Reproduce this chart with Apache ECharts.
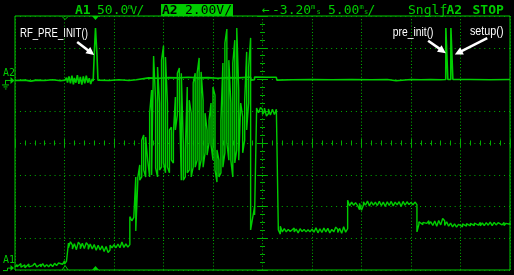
<!DOCTYPE html>
<html><head><meta charset="utf-8">
<script src="https://cdn.jsdelivr.net/npm/echarts/dist/echarts.min.js"></script>
<style>html,body{margin:0;padding:0;background:#000;}#c{width:514px;height:275px;}</style>
</head><body><div id="c"></div>
<script>
// ---- data (time in ms from screen left, 5 ms/div; level in screen divisions from bottom) ----
const a1Step = 0.2; // ms between columns
// A1 (current probe) : upper / lower extent of the trace per column
const a1Hi = [
 0.14,0.17,0.13,0.2,0.14,0.16,0.13,0.19,0.15,0.14, 0.21,0.15,0.14,0.18,0.2,0.15,0.17,0.22,0.18,0.2, 0.21,0.25,0.22,0.26,0.24,0.29,0.27,
 0.85,0.89,0.78,0.83,0.8,0.88,0.79,0.84,0.8,0.86, 0.78,0.82,0.77,0.8,0.75,0.78,0.74,0.76,0.72,0.74, 0.73,0.78,0.84,0.8,0.86,0.82,0.79,0.88,0.84,0.82, 0.86,
 1.68,1.7,1.66,2.93,
 2.90,3.31,4.09,4.25,4.19,4.25,4.94,5.67,6.74,5.35, 6.39,5.26,6.61,7.06,6.71,5.26,4.41,4.5,4.31,5.45,
 6.2,6.36,6.2,4.0,3.78,5.76,5.35,4.94,5.89,6.2, 6.2,6.68,6.24,5.35,4.94,4.41,4.72,5.26,5.76,5.51,
 3.78,3.46,4.72,6.52,7.15,7.59,6.61,5.26,6.52,7.24, 7.62,5.67,5.26,4.82,5.35,6.87,6.39,7.31,1.32,2.0, 5.1,
 5.08,5.12,5.05,5.1,5.04,5.07,5.03,5.06,5.08,5.06, 5.0,
 1.38,1.32,1.3,1.36,1.28,1.3,1.27,1.32,1.29,1.26, 1.3,1.33,1.28,1.3,1.27,1.31,1.29,1.26,1.33,1.28, 1.3,1.27,1.32,1.29,1.31,1.26,1.28,1.3,1.35,1.28, 1.31,1.29,1.36,1.3,
 2.2,
 2.18,2.14,2.2,2.12,2.16,2.1,2.13,2.15,2.12,2.17, 2.13,2.15,2.11,2.14,2.12,2.16,2.11,2.14,2.12,2.15, 2.13,2.16,2.12,2.14,2.11,2.15,2.13,2.16,2.12,2.15, 2.18,2.13,2.16,2.14,
 2.06,
 1.52,1.54,1.5,1.53,1.51,1.55,1.52,1.58,1.54,1.6, 1.56,1.58,1.62,1.55,1.52,1.5,1.48,1.47,1.45,1.48, 1.44,1.46,1.45,1.49,1.46,1.5,1.47,1.5,1.48,1.51, 1.47,1.5,1.48,1.52,1.49,1.47,1.51,1.48,1.5,1.53, 1.49,1.51,1.48,1.5,1.47,1.49,1.5
];
const a1Lo = [
 0.09,0.1,0.08,0.09,0.1,0.07,0.09,0.1,0.08,0.1, 0.09,0.1,0.08,0.1,0.09,0.1,0.11,0.1,0.12,0.11, 0.12,0.14,0.15,0.16,0.18,0.19,0.2,
 0.7,0.68,0.66,0.7,0.64,0.7,0.67,0.62,0.68,0.71, 0.65,0.6,0.66,0.63,0.62,0.58,0.63,0.6,0.58,0.6, 0.55,0.63,0.7,0.72,0.7,0.74,0.7,0.73,0.71,0.7, 0.72,
 0.8,1.55,1.52,1.23,
 2.77,2.83,2.93,3.15,2.93,3.46,2.93,2.99,2.93,3.21, 2.93,3.15,3.24,3.37,3.06,3.24,3.06,3.46,3.37,4.41,
 4.88,5.35,2.83,2.83,2.93,3.06,3.15,2.93,3.24,3.24, 3.46,3.15,3.46,3.24,3.69,3.62,4.0,3.94,3.46,3.15,
 2.77,2.93,3.06,3.24,3.69,4.0,3.46,3.46,2.93,3.37, 3.78,3.46,3.46,3.69,4.09,4.41,5.26,1.26,1.23,1.73, 4.98,
 4.95,4.97,4.9,4.98,4.85,4.93,4.88,4.82,4.9,4.92, 1.26,
 1.13,1.2,1.22,1.2,1.18,1.21,1.16,1.2,1.22,1.17, 1.2,1.21,1.16,1.2,1.19,1.2,1.15,1.19,1.21,1.17, 1.2,1.18,1.16,1.2,1.22,1.17,1.14,1.2,1.21,1.18, 1.2,1.16,1.2,1.19,
 1.3,
 2.02,1.98,2.04,2.0,2.03,1.9,1.88,2.05,2.04,2.06, 2.02,1.98,2.04,2.05,2.03,2.06,2.03,2.04,2.0,2.05, 2.03,2.06,2.02,2.04,2.05,2.03,2.0,2.05,2.04,2.03, 2.06,2.02,2.05,2.04,
 1.2,
 1.44,1.46,1.43,1.45,1.47,1.44,1.42,1.4,1.46,1.38, 1.44,1.42,1.46,1.4,1.43,1.38,1.4,1.36,1.38,1.35, 1.37,1.39,1.36,1.4,1.38,1.41,1.39,1.42,1.4,1.43, 1.41,1.39,1.42,1.4,1.43,1.41,1.44,1.4,1.43,1.42, 1.41,1.44,1.42,1.4,1.43,1.41,1.44
];
// A2 (GPIO / debug pin)
const a2Time = [
 0,1.0,1.6,2.2,3.0,3.8,4.6,5.06,
 5.2,5.3,5.45,5.6,5.75,5.9,6.0,6.15,6.3,6.45,6.6,6.75,6.9,7.05,7.2,7.35,7.5,7.65,7.8,7.9,
 8.0,8.0,8.12,8.13,8.27,8.28,8.37,8.38,
 9.5,10.5,11.5,12.25,12.3,13.5,14.5,15.5,16.5,17.5,18.5,19.5,20.5,21.5,22.5,23.5,23.8,23.85,24.19,24.2,25.4,26.4,26.45,
 28,30,32,34,36,37.6,37.7,38.5,38.6,40,41,42,43,43.51,43.52,43.7,43.72,44.02,44.03,44.22,44.23,46,48,50
];
const a2Level = [
 5.97,5.98,5.95,5.98,5.97,5.99,5.96,5.98,
 6.06,5.9,6.1,5.88,6.12,5.85,6.05,5.9,6.14,5.86,6.08,5.84,6.1,5.88,6.12,5.9,6.04,5.86,6.02,5.95,
 5.98,6.77,6.77,7.62,7.62,6.77,6.77,5.98,
 5.97,5.99,5.97,5.99,6.04,6.05,6.04,6.06,6.05,6.07,6.05,6.06,6.04,6.06,6.05,6.07,6.07,5.98,5.99,6.08,6.07,6.07,5.98,
 5.99,6.0,5.99,6.0,5.99,6.0,5.96,5.96,6.0,6.0,5.99,6.0,5.99,6.0,7.62,7.62,6.0,6.0,7.62,7.62,6.0,6.0,5.99,6.0
];
const groundLevels = { A2: 5.97, A1: 0.06 };
const markerTimes = { reference: 5.06, trigger: 8.13 };
const noteTexts = ['RF_PRE_INIT()', 'pre_init()', 'setup()'];
const noteAt = [[0.5, 7.45], [38.16, 7.48], [45.95, 7.5]];
const arrowFrom = [[6.28, 7.18], [41.73, 7.22], [47.7, 7.30]];
const arrowTo = [[8.0, 6.77], [43.52, 6.83], [44.43, 6.79]];

// ---- chart ----
const GREEN = '#00cc00', DOT = '#00b000', MONO = '"DejaVu Sans Mono", "Liberation Mono", monospace';
const chart = echarts.init(document.getElementById('c'), null, {renderer: 'canvas'});

function zigzag(hi, lo, step) {
  const out = [];
  for (let i = 0; i < hi.length; i++) {
    const t = +(i * step).toFixed(3);
    if (i % 2 === 0) out.push([t, lo[i]], [t, hi[i]]);
    else out.push([t, hi[i]], [t, lo[i]]);
  }
  return out;
}
const hidden = {show: false};
function centerX(pos) {
  return {gridIndex: 1, type: 'value', min: -5, max: 5, interval: 1, position: pos,
    axisLine: {show: false, onZero: true, onZeroAxisIndex: 1},
    axisTick: {show: true, length: 4, lineStyle: {color: DOT}},
    minorTick: {show: true, splitNumber: 5, length: 2.5, lineStyle: {color: DOT}},
    axisLabel: hidden, splitLine: hidden, minorSplitLine: hidden};
}
function centerY(pos) {
  return {gridIndex: 1, type: 'value', min: -4, max: 4, interval: 1, position: pos,
    axisLine: {show: false, onZero: true, onZeroAxisIndex: 1},
    axisTick: {show: true, length: 5, lineStyle: {color: DOT}},
    minorTick: {show: true, splitNumber: 4, length: 2.5, lineStyle: {color: DOT}},
    axisLabel: hidden, splitLine: hidden, minorSplitLine: hidden};
}

chart.setOption({
  backgroundColor: '#000',
  animation: false,
  grid: [
    {left: 15, right: 4, top: 16, bottom: 5, show: true, borderColor: GREEN, borderWidth: 1, outerBoundsMode: 'none', containLabel: false},
    {left: 15, right: 4, top: 16, bottom: 5, outerBoundsMode: 'none', containLabel: false}
  ],
  xAxis: [
    {gridIndex: 0, type: 'value', min: 0, max: 50, interval: 5, axisLine: hidden, axisTick: hidden, axisLabel: hidden,
     splitLine: {show: true, lineStyle: {color: DOT, width: 1, type: [1, 2.2]}}},
    centerX('bottom'), centerX('top')
  ],
  yAxis: [
    {gridIndex: 0, type: 'value', min: 0, max: 8, interval: 1, axisLine: hidden, axisTick: hidden, axisLabel: hidden,
     splitLine: {show: true, lineStyle: {color: DOT, width: 1, type: [1, 3.94]}}},
    centerY('left'), centerY('right')
  ],
  series: [
    {name: 'A1', type: 'line', xAxisIndex: 0, yAxisIndex: 0, data: zigzag(a1Hi, a1Lo, a1Step),
     symbol: 'none', showSymbol: false, silent: true, clip: true,
     lineStyle: {color: GREEN, width: 1.4}, z: 5},
    {name: 'A2', type: 'line', xAxisIndex: 0, yAxisIndex: 0, data: a2Time.map((t, i) => [t, a2Level[i]]),
     symbol: 'none', showSymbol: false, silent: true, clip: true,
     lineStyle: {color: GREEN, width: 1.6}, z: 5}
  ]
});

const px = p => chart.convertToPixel({xAxisIndex: 0, yAxisIndex: 0}, p);
function txt(x, y, s, font, fill, sx) {
  return {type: 'text', x: x, y: y, scaleX: sx || 1, silent: true, z: 110,
    style: {text: s, font: font, fill: fill, textAlign: 'left', align: 'left', textVerticalAlign: 'middle', verticalAlign: 'middle'}};
}
const g = [];
const F = '13px ' + MONO, FB = 'bold 13px ' + MONO, FS = '7px ' + MONO;
// header
g.push(txt(75, 10.5, 'A1', FB, GREEN));
g.push(txt(97, 10.5, '50.0', F, GREEN));
g.push(txt(128, 7, 'm', FS, GREEN));
g.push(txt(130.5, 11.5, 'V', '11px ' + MONO, GREEN));
g.push(txt(136.5, 10.5, '/', F, GREEN));
g.push({type: 'rect', shape: {x: 161, y: 4, width: 72, height: 12}, style: {fill: GREEN}, silent: true, z: 105});
g.push(txt(162, 10.5, 'A2', FB, '#000'));
g.push(txt(185, 10.5, '2.00V/', F, '#000'));
g.push(txt(262, 10.5, '\u2190', F, GREEN));
g.push(txt(272, 10.5, '-3.20', F, GREEN));
g.push(txt(311, 7.5, 'm', FS, GREEN));
g.push(txt(316.5, 12.5, 's', FS, GREEN));
g.push(txt(328, 10.5, '5.00', F, GREEN));
g.push(txt(359.5, 7.5, 'm', FS, GREEN));
g.push(txt(364, 12.5, 's', FS, GREEN));
g.push(txt(367.5, 10.5, '/', F, GREEN));
g.push(txt(408, 10.5, 'Sngl', F, GREEN));
g.push(txt(439.5, 10.5, '\u0192', F, GREEN));
g.push(txt(446.5, 10.5, 'A2', FB, GREEN));
g.push(txt(472.5, 10.5, 'STOP', FB, GREEN));

// channel ground markers
const gy2 = px([0, groundLevels.A2])[1];
const gy1 = px([0, groundLevels.A1])[1];
g.push(txt(3, gy2 - 7.5, 'A2', '10px ' + MONO, GREEN));
g.push(txt(3, gy1 - 8, 'A1', '10px ' + MONO, GREEN));
const ln = (pts, w) => ({type: 'polyline', shape: {points: pts}, style: {stroke: GREEN, lineWidth: w || 1, fill: null}, silent: true, z: 110});
const tri = pts => ({type: 'polygon', shape: {points: pts}, style: {fill: GREEN}, silent: true, z: 110});
g.push(ln([[5, gy2], [11, gy2]]));
g.push(tri([[10.5, gy2 - 3.5], [14.5, gy2], [10.5, gy2 + 3.5]]));
g.push(ln([[5.5, gy2], [5.5, gy2 + 4]]));
g.push(ln([[2, gy2 + 4.5], [9, gy2 + 4.5]]));
g.push(ln([[3.5, gy2 + 6.5], [7.5, gy2 + 6.5]]));
g.push(ln([[5, gy2 + 8.5], [6.5, gy2 + 8.5]]));
g.push(ln([[3, gy1 + 2.5], [7.5, gy1 + 2.5], [7.5, gy1], [11, gy1]]));
g.push(tri([[10.5, gy1 - 3], [14, gy1], [10.5, gy1 + 3]]));

// time markers on top / bottom frame
const yTop = px([0, 8])[1], yBot = px([0, 0])[1];
const xr = px([markerTimes.reference, 0])[0], xt = px([markerTimes.trigger, 0])[0];
g.push(ln([[xr - 3, yTop + 0.5], [xr, yTop + 3.5], [xr + 3, yTop + 0.5]]));
g.push(tri([[xt - 3.5, yTop], [xt + 3.5, yTop], [xt, yTop + 4]]));
g.push(ln([[xr - 3, yBot], [xr, yBot - 4.5], [xr + 3, yBot]]));
g.push(tri([[xt - 3.5, yBot], [xt + 3.5, yBot], [xt, yBot - 4]]));

// annotations
const noteScale = [0.74, 0.86, 0.9];
const noteFont = ['13px "Liberation Sans", Arial, sans-serif', '12px "Liberation Sans", Arial, sans-serif', '12px "Liberation Sans", Arial, sans-serif'];
noteTexts.forEach((s, i) => {
  const p = px(noteAt[i]);
  g.push(txt(p[0], p[1], s, noteFont[i], '#ffffff', noteScale[i]));
  const a = px(arrowFrom[i]), b = px(arrowTo[i]);
  const dx = b[0] - a[0], dy = b[1] - a[1], L = Math.hypot(dx, dy);
  const ux = dx / L, uy = dy / L, nx = -uy, ny = ux;
  const hl = 8, hw = 4;
  g.push({type: 'line', shape: {x1: a[0], y1: a[1], x2: b[0] - ux * (hl - 1), y2: b[1] - uy * (hl - 1)},
    style: {stroke: '#ffffff', lineWidth: 2.5}, silent: true, z: 110});
  g.push({type: 'polygon', shape: {points: [[b[0], b[1]],
    [b[0] - ux * hl + nx * hw, b[1] - uy * hl + ny * hw],
    [b[0] - ux * hl - nx * hw, b[1] - uy * hl - ny * hw]]},
    style: {fill: '#ffffff'}, silent: true, z: 110});
});
chart.setOption({graphic: {elements: g}});
</script>
</body></html>
